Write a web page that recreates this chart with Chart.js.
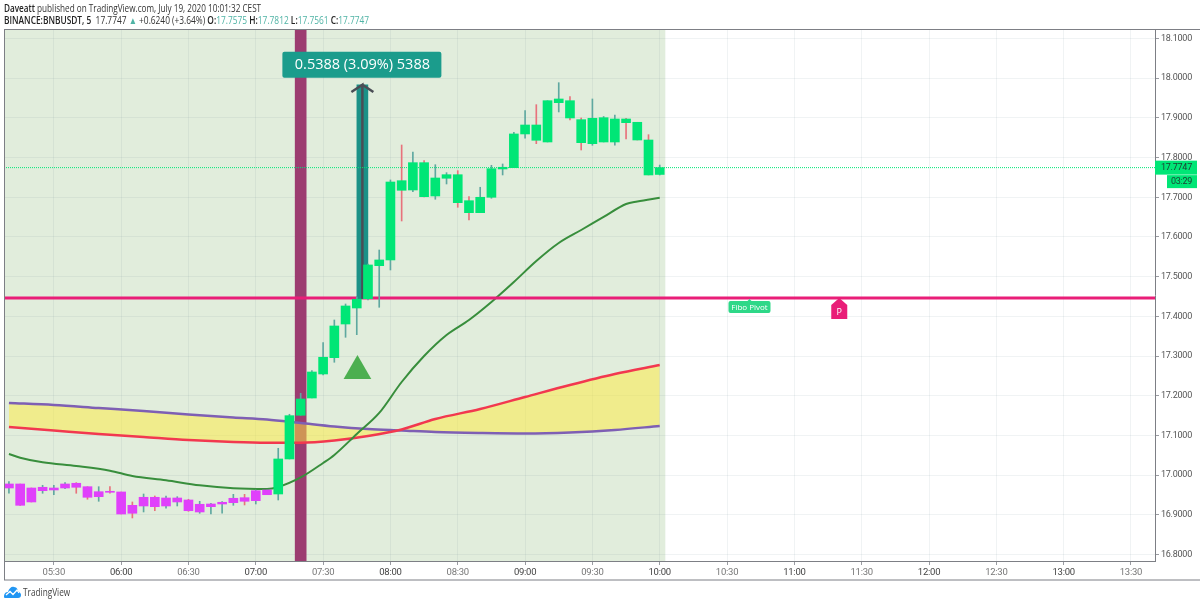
<!DOCTYPE html>
<html>
<head>
<meta charset="utf-8">
<title>BNBUSDT 5m</title>
<script src="https://cdn.jsdelivr.net/npm/chart.js@4"></script>
<style>
  html, body { margin: 0; padding: 0; background: #fff; }
  #wrap { position: relative; width: 1200px; height: 605px; overflow: hidden; font-family: "Open Sans", sans-serif; }
  canvas { position: absolute; left: 0; top: 0; }
  .head { position: absolute; left: 4px; white-space: nowrap; font-size: 10px; color: #333; line-height: 12px; transform-origin: left top; }
  .head b { font-weight: 600; color: #222; }
  .head i { font-style: normal; color: #4fb3a5; }
  #logo { position: absolute; left: 4px; top: 586px; }
  #brand { position: absolute; left: 23px; top: 585px; font-size: 11px; line-height: 14px; color: #444; transform: scaleX(.75); transform-origin: left top; }
</style>
</head>
<body>
<div id="wrap">
  <canvas id="priceChart" width="1200" height="605"></canvas>
  <div class="head" style="top:2px; transform:scaleX(.816)"><b>Daveatt</b> published on TradingView.com, July 19, 2020 10:01:32 CEST</div>
  <div class="head" style="top:14px; transform:scaleX(.835)"><b>BINANCE:BNBUSDT, 5</b>&nbsp; 17.7747 <i>▲</i> +0.6240 (+3.64%) <b>O:</b><i>17.7575</i> <b>H:</b><i>17.7812</i> <b>L:</b><i>17.7561</i> <b>C:</b><i>17.7747</i></div>
  <svg id="logo" width="17" height="12" viewBox="0 0 17 12"><path d="M0 11 C0 7 2 6 4 6 C5 2 8 0 10 1 C13 1 14 4 14 5 C16 6 17 8 17 9 C17 11 16 12 14 12 L2 12 C1 12 0 12 0 11Z" fill="#2196f3"/><path d="M2 9 L6 5.5 L9 8.5 L13 4 L15 7" fill="none" stroke="#fff" stroke-width="1.3"/></svg>
  <div id="brand">TradingView</div>
</div>
<script>
const barTimes = ['05:10','05:15','05:20','05:25','05:30','05:35','05:40','05:45','05:50','05:55',
  '06:00','06:05','06:10','06:15','06:20','06:25','06:30','06:35','06:40','06:45',
  '06:50','06:55','07:00','07:05','07:10','07:15','07:20','07:25','07:30','07:35',
  '07:40','07:45','07:50','07:55','08:00','08:05','08:10','08:15','08:20','08:25',
  '08:30','08:35','08:40','08:45','08:50','08:55','09:00','09:05','09:10','09:15',
  '09:20','09:25','09:30','09:35','09:40','09:45','09:50','09:55','10:00'];
const opens = [16.9677,16.9778,16.9677,16.9609,16.9627,16.9677,16.9796,16.9710,16.9458,16.9594,
  16.9577,16.9241,16.9224,16.9443,16.9224,16.9325,16.9375,16.9073,16.9206,16.9274,
  16.9307,16.9433,16.9357,16.9508,16.9526,17.0408,17.1509,17.1944,17.2549,17.2960,
  17.3808,17.4211,17.4446,17.5277,17.5421,17.7418,17.7184,17.7872,17.7033,17.7479,
  17.7569,17.6914,17.6612,17.7000,17.7713,17.7746,17.8595,17.8821,17.8393,17.9383,
  17.9433,17.8955,17.8350,17.8393,17.8393,17.8972,17.8889,17.8443,17.7575];
const closes = [16.9778,16.9241,16.9325,16.9695,16.9677,16.9778,16.9695,16.9443,16.9584,16.9569,
  16.9022,16.9040,16.9443,16.9206,16.9425,16.9425,16.9105,16.9267,16.9274,16.9317,
  16.9418,16.9342,16.9609,16.9627,17.0408,17.1499,17.1919,17.2599,17.2970,17.3758,
  17.4262,17.4431,17.5295,17.5421,17.7385,17.7176,17.7872,17.7015,17.7486,17.7569,
  17.6864,17.6612,17.7000,17.7720,17.7756,17.8595,17.8821,17.8436,17.9433,17.9476,
  17.8998,17.8375,17.8990,17.9005,17.8972,17.8879,17.8443,17.7562,17.7747];
const highs = [16.9836,16.9778,16.9677,16.9745,16.9745,16.9811,16.9811,16.9710,16.9710,16.9710,
  16.9577,16.9325,16.9526,16.9476,16.9476,16.9458,16.9393,16.9342,16.9292,16.9332,
  16.9518,16.9518,16.9627,16.9627,17.0677,17.1534,17.2063,17.2632,17.3337,17.3909,
  17.4312,17.4489,17.5320,17.5672,17.7436,17.8317,17.8141,17.7922,17.7821,17.7620,
  17.7670,17.7015,17.7252,17.7806,17.7839,17.8637,17.9181,17.9333,17.9433,17.9887,
  17.9534,17.8998,17.9476,17.9035,17.9073,17.8990,17.8889,17.8577,17.7812];
const lows = [16.9544,16.9241,16.9325,16.9544,16.9508,16.9660,16.9544,16.9393,16.9342,16.9544,
  16.9022,16.8922,16.9073,16.9105,16.9166,16.9224,16.9090,16.9040,16.9022,16.9040,
  16.9241,16.9249,16.9274,16.9508,16.9375,17.0408,17.1509,17.1944,17.2524,17.2844,
  17.3473,17.3539,17.4413,17.4229,17.5169,17.6403,17.7141,17.7008,17.6950,17.7335,
  17.6748,17.6428,17.6612,17.6975,17.7562,17.7746,17.8486,17.8350,17.8393,17.9149,
  17.8947,17.8191,17.8310,17.8393,17.8310,17.8469,17.8443,17.7562,17.7561];
const magentaBars = 24; // first bars are coloured by the indicator

const maTimes = ['05:10','05:15','05:25','05:40','05:55','06:05','06:20','06:35','06:50','07:05',
  '07:10','07:20','07:30','07:35','07:45','07:55','08:05','08:15','08:25','08:35',
  '08:45','08:55','09:05','09:15','09:25','09:35','09:45','09:50','10:00'];
const maValues = [17.0534,17.0441,17.0325,17.0231,17.0113,16.9980,16.9871,16.9745,16.9670,16.9652,
  16.9702,16.9942,17.0307,17.0509,17.1038,17.1567,17.2347,17.3002,17.3531,17.3909,
  17.4363,17.4866,17.5395,17.5849,17.6176,17.6504,17.6831,17.6894,17.6990];

const cloudTimes = ['05:10','05:30','05:50','06:10','06:30','06:50','07:05','07:20','07:35','07:50',
  '08:05','08:20','08:40','09:00','09:20','09:40','10:00'];
const cloudUpper = [17.1818,17.1768,17.1692,17.1617,17.1529,17.1453,17.1403,17.1315,17.1226,17.1163,
  17.1126,17.1088,17.1063,17.1050,17.1075,17.1138,17.1239];
const cloudLower = [17.1214,17.1126,17.1038,17.0962,17.0886,17.0836,17.0818,17.0818,17.0874,17.0987,
  17.1151,17.1415,17.1667,17.1970,17.2272,17.2549,17.2776];

const yTicks = [16.8,16.9,17.0,17.1,17.2,17.3,17.4,17.5,17.6,17.7,17.8,17.9,18.0,18.1];
const xTicks = ['05:30','06:00','06:30','07:00','07:30','08:00','08:30','09:00','09:30','10:00',
  '10:30','11:00','11:30','12:00','12:30','13:00','13:30'];

const pivotPrice = 17.446;
const lastPrice = 17.7747;
const signalTime = '07:20';
const measureLow = 17.4446;
const measureHigh = 17.9834;
const arrowWingPrice = 17.9653;
const triangleTime = 465.3;
const trianglePrice = 17.2624;

function toMin(s) {
  const p = s.split(':');
  return +p[0] * 60 + +p[1];
}
function pad(n) { return n < 10 ? '0' + n : '' + n; }

const xMin = 307.8, xMax = 820.7, yMin = 16.7838, yMax = 18.1239;
const measureTime = 467.5;
const upColor = '#00e676', pinkColor = '#e91e78', tealBox = '#1b9c8c';
const tickFont = 'Roboto, sans-serif';

const chartDecor = {
  id: 'chartDecor',
  beforeDraw(chart) {
    const { ctx, chartArea, scales } = chart;
    ctx.letterSpacing = '-0.25px'; // tick labels are narrow in the reference
    ctx.save();
    ctx.fillStyle = '#e1eddc';
    const right = scales.x.getPixelForValue(toMin('10:00')) + 5.6;
    ctx.fillRect(chartArea.left, chartArea.top, right - chartArea.left, chartArea.bottom - chartArea.top);
    ctx.restore();
  },
  afterDraw(chart) {
    const { ctx, chartArea, scales } = chart;
    const x = scales.x, y = scales.y;
    ctx.save();
    ctx.letterSpacing = '0px';

    // outer frame
    ctx.strokeStyle = '#7d7f85';
    ctx.lineWidth = 1;
    ctx.strokeRect(4.5, 29.5, 1300, 550.5);

    // measure tool label
    const mx = x.getPixelForValue(measureTime);
    const my = y.getPixelForValue(measureHigh);
    ctx.fillStyle = tealBox;
    ctx.beginPath();
    ctx.roundRect(mx - 80, my - 33, 159, 26, 2);
    ctx.fill();
    ctx.fillStyle = '#fff';
    ctx.font = '14.5px "Open Sans", sans-serif';
    ctx.textAlign = 'center';
    ctx.textBaseline = 'middle';
    ctx.fillText('0.5388 (3.09%) 5388', mx, my - 20);

    // pivot labels
    const py = y.getPixelForValue(pivotPrice);
    const fx = x.getPixelForValue(toMin('10:40'));
    ctx.fillStyle = '#2ed888';
    ctx.beginPath();
    ctx.roundRect(fx - 21, py + 3, 42, 12, 2);
    ctx.fill();
    ctx.beginPath();
    ctx.moveTo(fx - 3, py + 4);
    ctx.lineTo(fx, py + 1);
    ctx.lineTo(fx + 3, py + 4);
    ctx.fill();
    ctx.fillStyle = '#fff';
    ctx.font = '8px "Open Sans", sans-serif';
    ctx.fillText('Fibo Pivot', fx, py + 9.5);

    const px = x.getPixelForValue(toMin('11:20'));
    ctx.fillStyle = pinkColor;
    ctx.beginPath();
    ctx.moveTo(px, py);
    ctx.lineTo(px + 8, py + 7);
    ctx.lineTo(px + 8, py + 21);
    ctx.lineTo(px - 8, py + 21);
    ctx.lineTo(px - 8, py + 7);
    ctx.closePath();
    ctx.fill();
    ctx.fillStyle = '#fff';
    ctx.font = '9px "Open Sans", sans-serif';
    ctx.fillText('P', px, py + 14);

    // last price tags on the axis
    const ly = y.getPixelForValue(lastPrice);
    ctx.fillStyle = upColor;
    ctx.fillRect(chartArea.right, ly - 7, 42, 14);
    ctx.fillRect(chartArea.right + 12, ly + 7.5, 30, 13);
    ctx.fillStyle = '#1d3b33';
    ctx.letterSpacing = '-0.25px';
    ctx.font = '9px ' + tickFont;
    ctx.textAlign = 'left';
    ctx.fillText('17.7747', chartArea.right + 6, ly + 0.5);
    ctx.fillText('03:29', chartArea.right + 16, ly + 14.5);
    ctx.restore();
  }
};

new Chart(document.getElementById('priceChart'), {
  type: 'bar',
  plugins: [chartDecor],
  data: {
    datasets: [
      // signal band
      { data: [{ x: toMin(signalTime), y: [yMin, yMax] }], backgroundColor: '#9c3c70', barThickness: 11, order: 20 },
      // cloud
      {
        type: 'line', data: cloudTimes.map((t, i) => ({ x: toMin(t), y: cloudUpper[i] })),
        borderColor: '#7e5fb4', borderWidth: 2.5, pointRadius: 0, cubicInterpolationMode: 'monotone',
        fill: { target: '+1', above: 'rgba(255,235,59,0.5)', below: 'rgba(255,235,59,0.5)' }, order: 12
      },
      {
        type: 'line', data: cloudTimes.map((t, i) => ({ x: toMin(t), y: cloudLower[i] })),
        borderColor: '#f2384f', borderWidth: 2.5, pointRadius: 0, cubicInterpolationMode: 'monotone',
        fill: false, order: 11
      },
      // moving average
      {
        type: 'line', data: maTimes.map((t, i) => ({ x: toMin(t), y: maValues[i] })),
        borderColor: '#388e3c', borderWidth: 2, pointRadius: 0, cubicInterpolationMode: 'monotone',
        fill: false, order: 10
      },
      // pivot line
      {
        type: 'line', data: [{ x: xMin, y: pivotPrice }, { x: xMax, y: pivotPrice }],
        borderColor: pinkColor, borderWidth: 3, pointRadius: 0, fill: false, order: 9
      },
      // measure tool
      { data: [{ x: measureTime, y: [measureLow, measureHigh] }], backgroundColor: '#1b9187', barThickness: 11, order: 8 },
      {
        type: 'line',
        data: [
          { x: measureTime, y: measureLow }, { x: measureTime, y: measureHigh },
          { x: measureTime - 4.9, y: arrowWingPrice }, { x: measureTime, y: measureHigh },
          { x: measureTime + 4.9, y: arrowWingPrice }
        ],
        borderColor: '#4a4d55', borderWidth: 2.5, pointRadius: 0, fill: false, order: 7
      },
      // wicks
      {
        data: barTimes.map((t, i) => ({ x: toMin(t), y: [lows[i], highs[i]] })),
        backgroundColor: barTimes.map((t, i) => (closes[i] < opens[i] ? '#e8727c' : '#5fa8a0')),
        barThickness: 1, order: 6
      },
      // bodies
      {
        data: barTimes.map((t, i) => ({ x: toMin(t), y: [opens[i], closes[i]] })),
        backgroundColor: barTimes.map((t, i) => (i < magentaBars ? '#e040fb' : upColor)),
        barThickness: 9, order: 5
      },
      // buy triangle
      {
        type: 'scatter', data: [{ x: triangleTime, y: trianglePrice }],
        pointStyle: 'triangle', pointRadius: 16, backgroundColor: '#4caf50', borderWidth: 0, order: 4
      },
      // last price line
      {
        type: 'line', data: [{ x: xMin, y: lastPrice }, { x: xMax, y: lastPrice }],
        borderColor: upColor, borderWidth: 1, borderDash: [1, 1], pointRadius: 0, fill: false, order: 3
      }
    ]
  },
  options: {
    responsive: false,
    animation: false,
    layout: { autoPadding: false, padding: { left: 4, top: 29, right: 0, bottom: 0 } },
    plugins: { legend: { display: false }, tooltip: { enabled: false } },
    scales: {
      x: {
        type: 'linear', min: xMin, max: xMax, offset: false, stacked: true,
        afterBuildTicks(axis) { axis.ticks = xTicks.map(t => ({ value: toMin(t) })); },
        afterFit(axis) { axis.height = 44; axis.paddingLeft = 0; axis.paddingRight = 0; },
        grid: { color: 'rgba(110,140,150,0.10)', offset: false, tickLength: 4, tickColor: '#9a9ca2' },
        border: { color: '#7d7f85' },
        ticks: {
          autoSkip: false, maxRotation: 0, padding: 2,
          font: { family: tickFont, size: 9.5 },
          color(c) { return c.tick && c.tick.value % 60 === 0 ? '#444' : '#777'; },
          callback(v) { return pad(Math.floor(v / 60)) + ':' + pad(v % 60); }
        }
      },
      y: {
        position: 'right', min: yMin, max: yMax, stacked: false,
        afterBuildTicks(axis) { axis.ticks = yTicks.map(v => ({ value: v })); },
        afterFit(axis) { axis.width = 45; axis.paddingTop = 0; axis.paddingBottom = 0; },
        grid: { color: 'rgba(110,140,150,0.10)', tickLength: 4, tickColor: '#9a9ca2' },
        border: { color: '#7d7f85' },
        ticks: {
          padding: 2,
          font: { family: tickFont, size: 9 },
          color: '#555',
          callback(v) { return v.toFixed(4); }
        }
      }
    }
  }
});
</script>
</body>
</html>
